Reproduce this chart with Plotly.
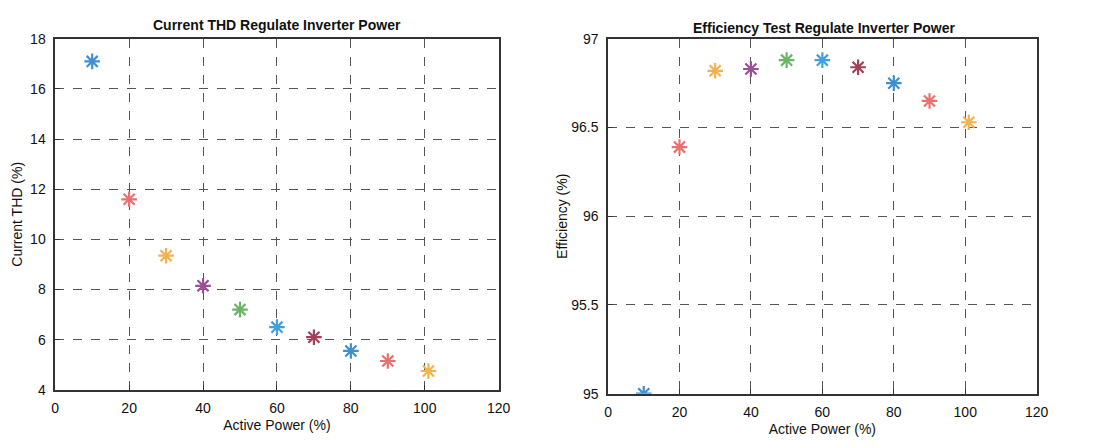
import plotly.graph_objects as go

# Data
power = [10, 20, 30, 40, 50, 60, 70, 80, 90, 101]
thd = [17.1, 11.6, 9.35, 8.15, 7.2, 6.5, 6.1, 5.55, 5.15, 4.75]
efficiency = [95.0, 96.39, 96.82, 96.83, 96.88, 96.88, 96.84, 96.75, 96.65, 96.53]
colors = ["#3f8fd2", "#e8706f", "#f2b24e", "#9b4f96", "#6ab56a",
          "#3fa0e0", "#a0405a", "#3d8fd0", "#e8706f", "#f2b24e"]
x_ticks = [0, 20, 40, 60, 80, 100, 120]
thd_ticks = [4, 6, 8, 10, 12, 14, 16, 18]
eff_ticks = [95, 95.5, 96, 96.5, 97]
eff_tick_text = ["95", "95.5", "96", "96.5", "97"]

FONT = "Liberation Sans, Arial, sans-serif"

fig = go.Figure()

fig.add_trace(go.Scatter(
    x=power, y=thd, mode="markers", xaxis="x", yaxis="y",
    marker=dict(symbol="asterisk-open", size=13, color=colors,
                line=dict(width=2.2, color=colors)),
    showlegend=False))
fig.add_trace(go.Scatter(
    x=power, y=efficiency, mode="markers", xaxis="x2", yaxis="y2",
    marker=dict(symbol="asterisk-open", size=13, color=colors,
                line=dict(width=2.2, color=colors)),
    showlegend=False))

W, H = 1095, 447

def ax_common():
    return dict(showline=True, linecolor="#333", linewidth=1.5, mirror=True,
                ticks="inside", ticklen=5, tickcolor="#333",
                showgrid=True, gridcolor="#555", griddash="dash", gridwidth=1,
                zeroline=False, ticklabelstandoff=5,
                tickfont=dict(family=FONT, size=14, color="#111"),
                title_font=dict(family=FONT, size=14, color="#111"))

fig.update_layout(
    width=W, height=H, margin=dict(l=0, r=0, t=0, b=0),
    paper_bgcolor="white", plot_bgcolor="white",
    font=dict(family=FONT, color="#111"),
    xaxis=dict(domain=[52 / W, 502 / W], range=[0, 120], tickvals=x_ticks,
               anchor="y", title=dict(text="Active Power (%)", standoff=5), **ax_common()),
    yaxis=dict(domain=[(H - 396) / H, (H - 32) / H], range=[4, 18], tickvals=thd_ticks,
               anchor="x", title=dict(text="Current THD (%)", standoff=4), **ax_common()),
    xaxis2=dict(domain=[613 / W, 1048 / W], range=[0, 120], tickvals=x_ticks,
                anchor="y2", title=dict(text="Active Power (%)", standoff=5), **ax_common()),
    yaxis2=dict(domain=[(H - 400) / H, (H - 32) / H], range=[95, 97], tickvals=eff_ticks,
                ticktext=eff_tick_text,
                anchor="x2", title=dict(text="Efficiency (%)", standoff=0), **ax_common()),
    annotations=[
        dict(text="<b>Current THD Regulate Inverter Power</b>", x=277 / W, y=(H - 18) / H,
             xref="paper", yref="paper", showarrow=False,
             font=dict(family=FONT, size=14, color="#111"), xanchor="center", yanchor="middle"),
        dict(text="<b>Efficiency Test Regulate Inverter Power</b>", x=832 / W, y=(H - 21) / H,
             xref="paper", yref="paper", showarrow=False,
             font=dict(family=FONT, size=14, color="#111"), xanchor="center", yanchor="middle"),
    ],
)

fig.write_html("out.html")
